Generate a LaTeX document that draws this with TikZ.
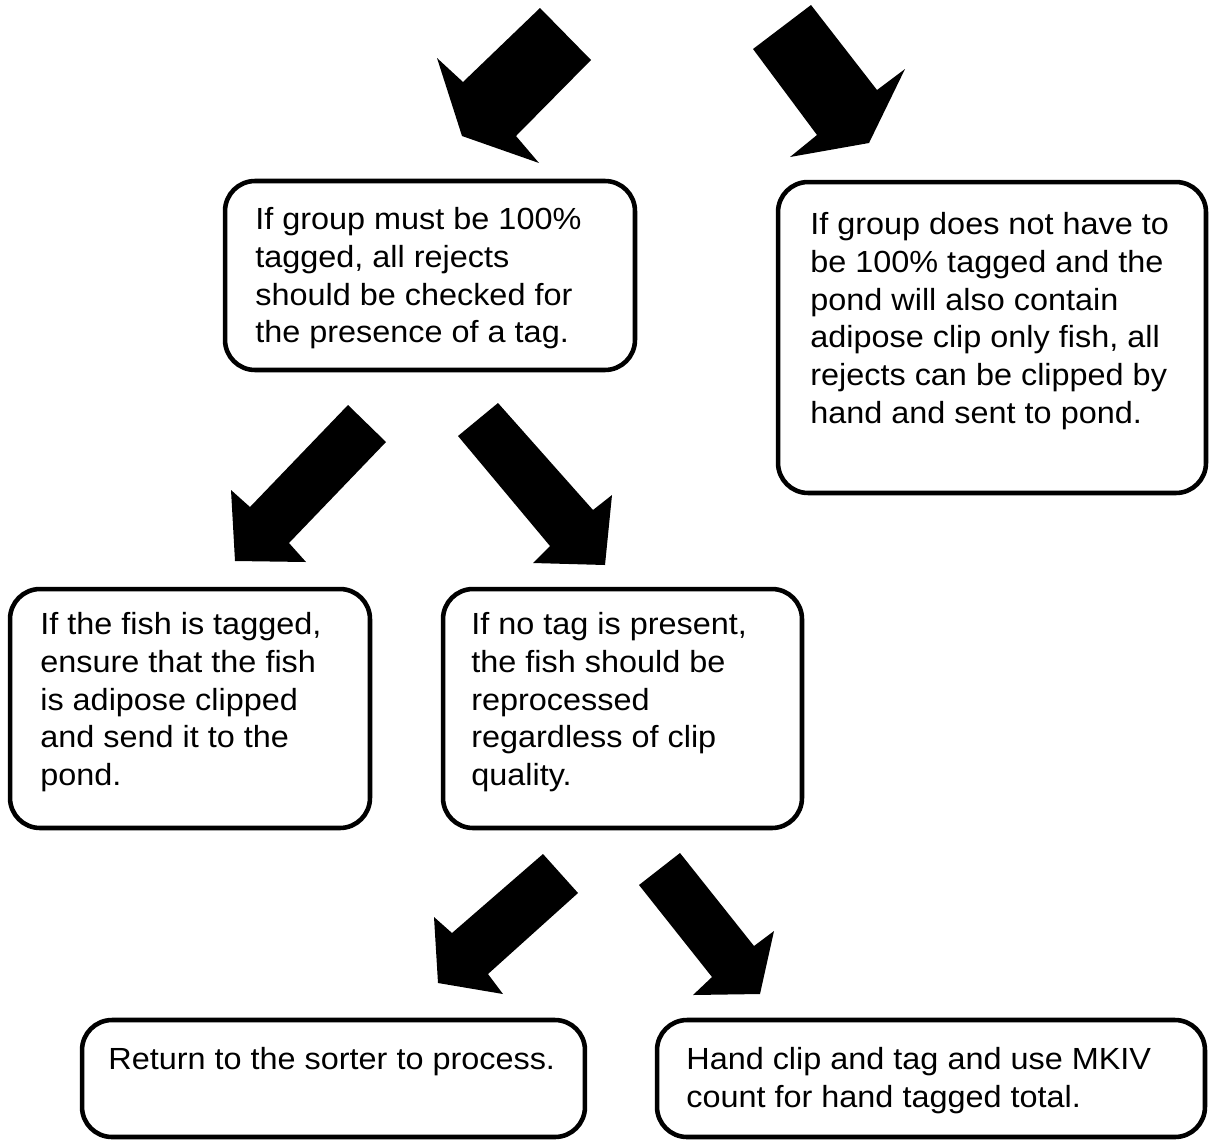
\documentclass[tikz,border=0pt]{standalone}
\usepackage{fontspec}
\setmainfont{Liberation Sans}[FakeStretch=1.06]
\begin{document}
\begin{tikzpicture}[x=0.02cm,y=-0.02cm,
  box/.style={draw=black, line width=2.6pt, rounded corners=0.6cm, fill=white, inner sep=0pt},
  txt/.style={anchor=north west, inner sep=0pt, align=left, font={\fontsize{17.4}{21.5}\selectfont}},
  blockarrow/.style={fill=black, draw=none}]
\useasboundingbox (0,0) rectangle (1209,1139);
% boxes
\node[box, minimum width=8.2cm, minimum height=3.78cm] (A) at (430,275.5) {};
\node[box, minimum width=8.56cm, minimum height=6.22cm] (B) at (992,337.5) {};
\node[box, minimum width=7.2cm, minimum height=4.78cm] (C) at (190,708.5) {};
\node[box, minimum width=7.18cm, minimum height=4.78cm] (D) at (622.5,708.5) {};
\node[box, minimum width=10.06cm, minimum height=2.34cm] (E) at (333.5,1078.5) {};
\node[box, minimum width=10.96cm, minimum height=2.34cm] (F) at (931,1078.5) {};
% texts
\node[txt] (tA) at (255,207) {If group must be 100\%\\tagged, all rejects\\should be checked for\\the presence of a tag.};
\node[txt] (tB) at (810,212) {If group does not have to\\be 100\% tagged and the\\pond will also contain\\adipose clip only fish, all\\rejects can be clipped by\\hand and sent to pond.};
\node[txt] (tC) at (40,612) {If the fish is tagged,\\ensure that the fish\\is adipose clipped\\and send it to the\\pond.};
\node[txt] (tD) at (471,612) {If no tag is present,\\the fish should be\\reprocessed\\regardless of clip\\quality.};
\node[txt] (tE) at (108,1047) {Return to the sorter to process.};
\node[txt] (tF) at (686,1047) {Hand clip and tag and use MKIV\\count for hand tagged total.};
% block arrows
\fill[blockarrow] (540,8) -- (591,60) -- (516,136) -- (539,163) -- (462,136) -- (437,58) -- (463,82) -- cycle;
\fill[blockarrow] (753,49) -- (811,5) -- (877,90) -- (905,69) -- (869,143) -- (790,157) -- (817,135) -- cycle;
\fill[blockarrow] (348,405) -- (386,442) -- (289,543) -- (306,562) -- (235,561) -- (231,490) -- (250,507) -- cycle;
\fill[blockarrow] (458,436) -- (498,403) -- (593,510) -- (612,495) -- (605,565) -- (533,563) -- (550,546) -- cycle;
\fill[blockarrow] (543,854) -- (578,893) -- (488,974) -- (503,994) -- (438,983) -- (434,917) -- (452,933) -- cycle;
\fill[blockarrow] (639,885) -- (680,853) -- (754,946) -- (774,931) -- (760,994) -- (693,995) -- (712,977) -- cycle;
\end{tikzpicture}
\end{document}
